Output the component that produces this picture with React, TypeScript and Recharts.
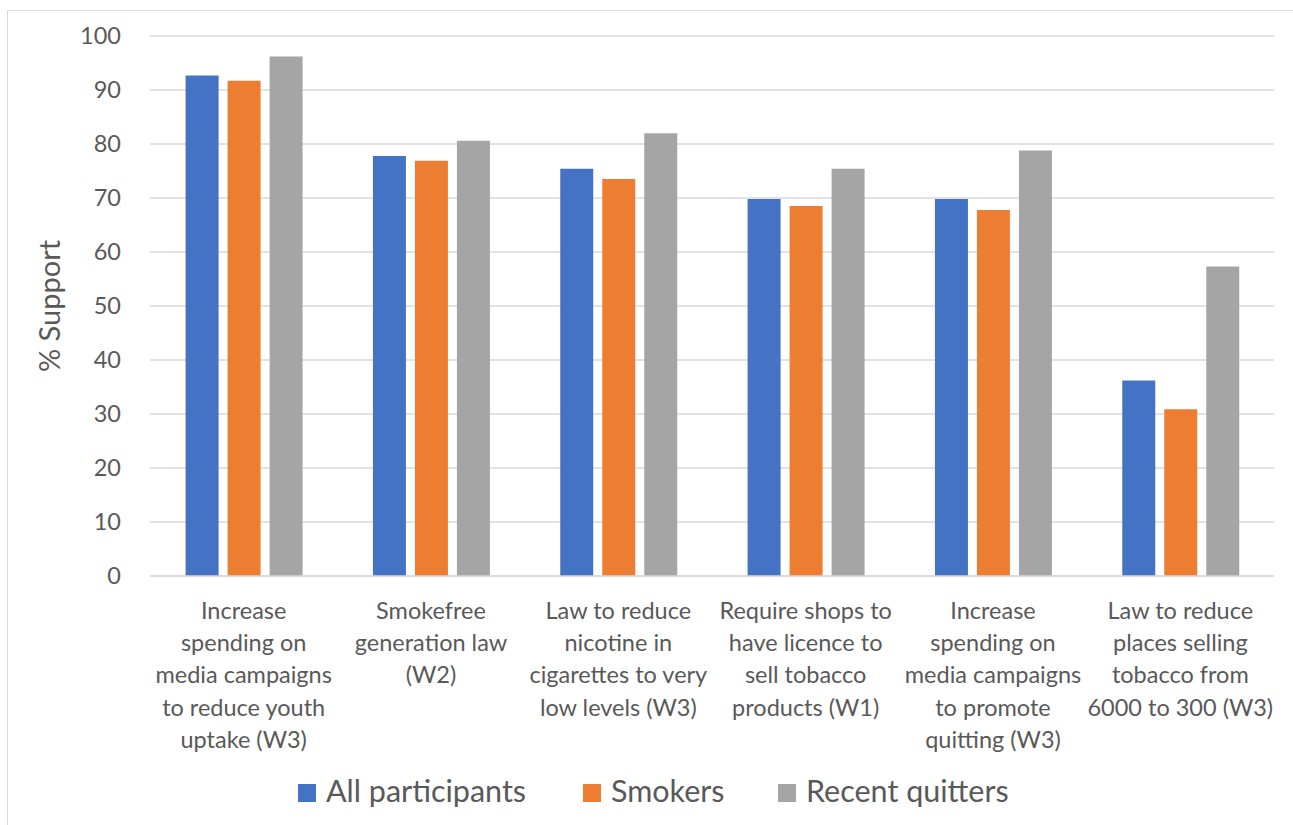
import {BarChart, Bar, CartesianGrid, XAxis, YAxis} from 'recharts';

const categories = [
    ['Increase', 'spending on', 'media campaigns', 'to reduce youth', 'uptake (W3)'],
    ['Smokefree', 'generation law', '(W2)'],
    ['Law to reduce', 'nicotine in', 'cigarettes to very', 'low levels (W3)'],
    ['Require shops to', 'have licence to', 'sell tobacco', 'products (W1)'],
    ['Increase', 'spending on', 'media campaigns', 'to promote', 'quitting (W3)'],
    ['Law to reduce', 'places selling', 'tobacco from', '6000 to 300 (W3)'],
];
const allParticipants = [92.7, 77.8, 75.4, 69.8, 69.8, 36.2];
const smokers = [91.7, 76.9, 73.5, 68.5, 67.8, 30.9];
const recentQuitters = [96.2, 80.6, 82.0, 75.4, 78.8, 57.3];
const yTicks = [0, 10, 20, 30, 40, 50, 60, 70, 80, 90, 100];

const series = [
    {key: 'all', name: 'All participants', color: '#4472C4'},
    {key: 'smokers', name: 'Smokers', color: '#ED7D31'},
    {key: 'quitters', name: 'Recent quitters', color: '#A5A5A5'},
];

const data = categories.map((_, i) => ({
    label: i,
    all: allParticipants[i],
    smokers: smokers[i],
    quitters: recentQuitters[i],
}));

const FONT = "Lato, 'Open Sans', sans-serif";
const TEXT = '#595959';

const XTick = ({x, y, payload}: any) => {
    const lines = categories[payload.value] || [];
    return (
        <text x={x} y={y + 35} textAnchor="middle" fill={TEXT} fontSize={23.5} fontFamily={FONT}>
            {lines.map((l, i) => (
                <tspan key={i} x={x} dy={i === 0 ? 0 : 32.2}>{l}</tspan>
            ))}
        </text>
    );
};

const YTick = ({y, payload}: any) => (
    <text x={121} y={y + 8} textAnchor="end" fill={TEXT} fontSize={23.5} fontFamily={FONT}>
        {payload.value}
    </text>
);

// legend drawn by hand so it doesn't eat the plot's height
const legendX = [298, 583, 778];

export default function App() {
    return (
        <div style={{position: 'absolute', left: 0, top: 0, width: 1293, height: 825, background: '#fff'}}>
            <div style={{
                position: 'absolute', left: 7, top: 10, width: 1300, height: 820,
                border: '1px solid #d9d9d9', boxSizing: 'border-box'
            }}/>
            <div style={{position: 'absolute', left: 0, top: 0}}>
                <BarChart width={1293} height={825} data={data}
                          margin={{top: 36, right: 19, bottom: 219, left: 0}}
                          barCategoryGap="19%" barGap={9}>
                    <CartesianGrid vertical={false} stroke="#d9d9d9" strokeWidth={1.5}/>
                    <XAxis dataKey="label" height={30} tick={<XTick/>} tickLine={false}
                           axisLine={{stroke: '#d9d9d9', strokeWidth: 1.5}} interval={0}/>
                    <YAxis width={150} domain={[0, 100]} ticks={yTicks} tick={<YTick/>}
                           tickLine={false} axisLine={false}
                           label={{
                               value: '% Support', angle: -90, position: 'insideLeft',
                               textAnchor: 'middle',
                               offset: 50, fill: TEXT, fontSize: 29, fontFamily: FONT,
                           }}/>
                    {series.map(s => (
                        <Bar key={s.key} dataKey={s.key} name={s.name} fill={s.color}
                             isAnimationActive={false}/>
                    ))}
                </BarChart>
            </div>
            <svg width={1293} height={60} style={{position: 'absolute', left: 0, top: 765}}>
                {series.map((s, i) => (
                    <g key={s.key}>
                        <rect x={legendX[i]} y={19} width={18} height={18} fill={s.color}/>
                        <text x={legendX[i] + 28} y={37} fill={TEXT} fontSize={30.5} fontFamily={FONT}>{s.name}</text>
                    </g>
                ))}
            </svg>
        </div>
    );
}
